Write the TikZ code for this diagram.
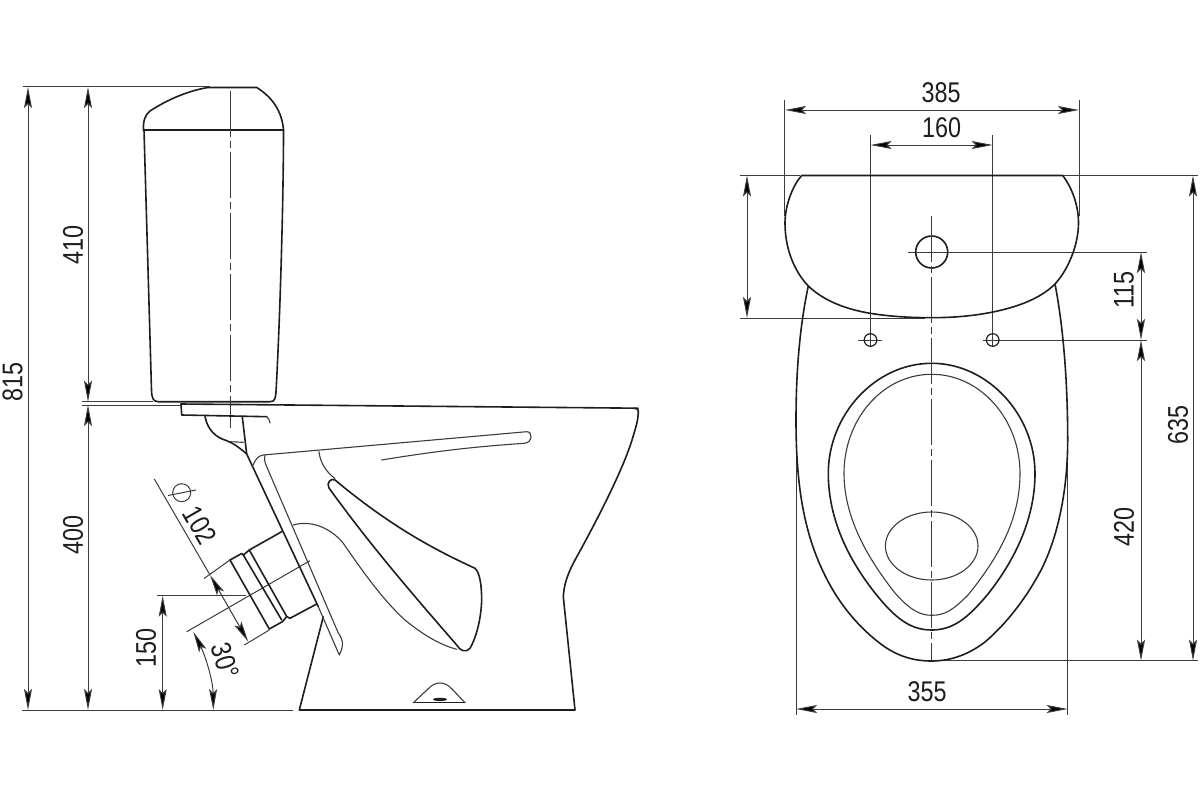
\documentclass[tikz,border=0pt]{standalone}
\usepackage{fontspec}
\setmainfont[FakeStretch=0.82]{Liberation Sans}
\usetikzlibrary{arrows.meta}
\definecolor{ink}{HTML}{1E1E1E}
\definecolor{fine}{HTML}{3C3C3C}
\tikzset{
  heavy/.style={draw=ink,line width=1.6pt,line join=round,line cap=round},
  light/.style={draw=fine,line width=1.1pt,line join=round,line cap=round},
  ext/.style={draw=fine,line width=1pt},
  dimline/.style={draw=fine,line width=1pt,{Stealth[length=21pt,width=8pt,inset=4pt,fill=black]}-{Stealth[length=21pt,width=8pt,inset=4pt,fill=black]}},
  axisline/.style={draw=fine,line width=1pt,dash pattern=on 46pt off 4pt on 7pt off 4pt},
  dimtext/.style={text=ink,font=\fontsize{28.5}{29}\selectfont,inner sep=0pt}
}
\begin{document}
\begin{tikzpicture}[x=1pt,y=-1pt]
\useasboundingbox (0,0) rectangle (1200,800);
\fill[white] (0,0) rectangle (1200,800);

% ---------- coordinates of dimension ends: side view
\coordinate (topL) at (28,87);
\coordinate (botL) at (28,710);
\coordinate (topM) at (88,87);
\coordinate (midMa) at (88,401.7);
\coordinate (midMb) at (88,405);
\coordinate (botM) at (88,710);
\coordinate (h150a) at (162.7,595.7);
\coordinate (h150b) at (162.7,710);
\coordinate (d102a) at (210,575);
\coordinate (d102b) at (248.3,641.7);
\coordinate (d102far) at (154.3,479);
\coordinate (a30a) at (193.3,631.7);
\coordinate (a30b) at (213.3,710);

% ---------- side view: extension lines
\draw[ext] (23,87) -- (210,87);
\draw[ext] (82,401.7) -- (153,401.7);
\draw[ext] (82,405) -- (181,405);
\draw[ext] (22,710) -- (293,710);
\draw[ext] (156.7,595.7) -- (246,595.7);
\draw[ext] (d102far) -- (d102a);
\draw[ext] (204,578.5) -- (230,560);
\draw[ext] (244.3,645) -- (269.3,630);
\draw[ext] (186.7,631.7) -- (310,560.7);

% ---------- side view: dimensions
\draw[dimline] (topL) -- (botL);
\draw[dimline] (topM) -- (midMa);
\draw[dimline] (midMb) -- (botM);
\draw[dimline] (h150a) -- (h150b);
\draw[dimline] (d102a) -- (d102b);
\draw[dimline] (a30a) .. controls (205,655) and (213,680) .. (a30b);

% ---------- side view: tank
\draw[heavy] (143.5,130) -- (283.5,130);
\draw[heavy] (143.5,130) .. controls (143,121) and (145,115) .. (150,111) .. controls (167,100) and (187,91) .. (208,87.5) -- (256.7,87.5)
  .. controls (272,97) and (282,111) .. (283.5,130);
\draw[heavy] (144,130) -- (151.5,390) .. controls (151.8,398) and (153,401.5) .. (158,401.7) -- (270,401.7)
  .. controls (275,401.7) and (275.5,398) .. (276,392) .. controls (280,320) and (283.5,200) .. (283.5,130);
\draw[axisline] (230,91) -- (230,428);

% ---------- side view: bowl
\draw[heavy] (181,404) -- (638,408.2);
\draw[heavy] (181,404) -- (181.7,415) -- (266.7,416.7);
\draw[light] (266.7,416.7) .. controls (268.5,418) and (269.5,420) .. (270,423);
\draw[heavy] (205,416.7) .. controls (208,430) and (215,437) .. (226.7,440.7) .. controls (233,443) and (240,448) .. (246.7,454);
\draw[light] (230,441.7) -- (243.3,442.3);
\draw[heavy] (242.3,416.7) -- (246.7,454) -- (318.3,606.7);
\draw[heavy] (323.3,616.7) -- (299.3,710) -- (575,710) -- (563.3,596.7);
\draw[heavy] (563.3,596.7) .. controls (564,585) and (567,575) .. (575,560) .. controls (600,515) and (625,465) .. (633,436.7) .. controls (636,427) and (638,420) .. (638.3,413)
  .. controls (638.6,409) and (637,408.2) .. (634,408.2);
% rim channel
\draw[light] (252.3,466.7) .. controls (255,460) and (258,455.5) .. (263.3,455) -- (526.7,431.7)
  .. controls (533,431.5) and (533,443) .. (524,443.3) .. controls (470,447) and (430,452) .. (381.7,460);
\draw[light] (265,455) .. controls (264,460) and (265,463) .. (266.7,466.7) -- (338.3,633)
  .. controls (342,638) and (345,644) .. (339.3,655) -- (318.3,606.7);
\draw[light] (319,451.7) .. controls (320,462) and (326,472) .. (335,478.5);
% water passage
\draw[heavy] (335,480) .. controls (331,477.5) and (326,483) .. (329,488) .. controls (370,545) and (415,597) .. (456.7,645)
  .. controls (460,651) and (466,653) .. (470,648.3) .. controls (476,638) and (481,620) .. (481.7,600)
  .. controls (481.5,585) and (480,573) .. (475,568.3) .. controls (440,552) and (395,530) .. (335,480) -- cycle;
\draw[light] (293.3,525) .. controls (310,520) and (330,527) .. (343.3,543.3) .. controls (365,575) and (385,602) .. (405,620) .. controls (422,634) and (440,645) .. (456.7,649.3);
% drain
\draw[heavy,line width=1.1pt] (413.3,702.7) -- (465,702.7);
\draw[light] (413.3,702.7) -- (428,689) .. controls (435,681) and (445,681) .. (452,689) -- (465,702.7);
\fill[ink] (440,699.4) ellipse[x radius=7pt,y radius=1.6pt];

% ---------- side view: outlet
\draw[heavy] (249.3,550) -- (281.7,531.7);
\draw[heavy] (290,618.3) -- (316.7,604);
\draw[heavy] (249.3,550) -- (286.7,616.5) -- (290,618.3);
\draw[heavy] (243.3,555) -- (281.7,620);
\draw[heavy] (230,560) -- (269.3,629);
\draw[heavy] (230,560) -- (241.7,553.5) -- (243.3,555) -- (249.3,550);
\draw[heavy] (269.3,629) -- (282.7,621.5) -- (286.7,616.5);

% ---------- side view: dimension texts
\node[dimtext,rotate=90] (t815) at (12.5,381.7) {815};
\node[dimtext,rotate=90] (t410) at (73,245) {410};
\node[dimtext,rotate=90] (t400) at (73,535) {400};
\node[dimtext,rotate=90] (t150) at (146,648) {150};
\node[dimtext,rotate=-60] (t102) at (200,525) {102};
\node[dimtext,rotate=-73] (t30) at (225,661) {30°};
\draw[ext] (181.7,492.7) circle[radius=9pt];
\draw[ext] (168,495.5) -- (196,490);

% ---------- plan view: coordinates
\coordinate (w385a) at (785,110);
\coordinate (w385b) at (1079,110);
\coordinate (w160a) at (870.5,145);
\coordinate (w160b) at (992.7,145);
\coordinate (vLa) at (747,175.5);
\coordinate (vLb) at (747,318);
\coordinate (v115a) at (1141,252);
\coordinate (v115b) at (1141,340);
\coordinate (v420a) at (1141,340);
\coordinate (v420b) at (1141,660.7);
\coordinate (v635a) at (1193,175.5);
\coordinate (v635b) at (1193,660.7);
\coordinate (w355a) at (796,709);
\coordinate (w355b) at (1067.7,709);

% ---------- plan view: extension lines
\draw[ext] (784.7,100) -- (784.7,216);
\draw[ext] (1079,100) -- (1079,216);
\draw[ext] (870.5,135) -- (870.5,347);
\draw[ext] (992.7,135) -- (992.7,347);
\draw[ext] (740,175.5) -- (800,175.5);
\draw[ext] (1062,175.5) -- (1198,175.5);
\draw[ext] (740,318) -- (925,318);
\draw[ext] (908,252) -- (1147,252);
\draw[ext] (858,340) -- (882,340);
\draw[ext] (983,340) -- (1147,340);
\draw[ext] (931.7,660.7) -- (1198,660.7);
\draw[ext] (796,430) -- (796,715);
\draw[ext] (1067.7,450) -- (1067.7,715);

% ---------- plan view: dimensions
\draw[dimline] (w385a) -- (w385b);
\draw[dimline] (w160a) -- (w160b);
\draw[dimline] (vLa) -- (vLb);
\draw[dimline] (v115a) -- (v115b);
\draw[dimline] (v420a) -- (v420b);
\draw[dimline] (v635a) -- (v635b);
\draw[dimline] (w355a) -- (w355b);

% ---------- plan view: tank
\draw[heavy] (801.7,175.5) .. controls (793,185) and (785,205) .. (785,223) .. controls (785,250) and (795,272) .. (808.3,286)
  .. controls (825,302) and (848,309.5) .. (870,313.3) .. controls (890,316.5) and (910,317.7) .. (931.7,317.7)
  .. controls (953,317.7) and (973,316) .. (993,312) .. controls (1017,307) and (1040,299) .. (1055,284)
  .. controls (1068,270) and (1078.5,245) .. (1078.5,223) .. controls (1078.5,205) and (1072,188) .. (1062.7,175.5) -- cycle;
\draw[heavy] (931.7,252) circle[radius=16pt];
\draw[heavy,line width=1.2pt] (870.5,340) circle[radius=6.3pt];
\draw[heavy,line width=1.2pt] (992.7,340) circle[radius=6.3pt];

% ---------- plan view: pan
\draw[heavy] (808.3,286) .. controls (800,325) and (796,370) .. (796,420) .. controls (796,490) and (805,540) .. (830,585)
  .. controls (845,612) and (865,633) .. (885,647) .. controls (900,657) and (915,661) .. (931.7,661)
  .. controls (950,661) and (968,655) .. (985,642) .. controls (1005,625) and (1025,600) .. (1040,572)
  .. controls (1058,538) and (1067.7,490) .. (1067.7,440) .. controls (1067.7,380) and (1063,325) .. (1055,284);
\draw[heavy] (931.7,363.3) .. controls (875,363.3) and (828.3,415) .. (828.3,473.3)
  .. controls (828.3,515) and (845,555) .. (875,593) .. controls (895,618) and (910,630) .. (931.7,630)
  .. controls (953,630) and (968,618) .. (988,594) .. controls (1018,556) and (1035,515) .. (1035,473.3)
  .. controls (1035,415) and (988,363.3) .. (931.7,363.3) -- cycle;
\draw[light] (931.7,374.3) .. controls (882,374.3) and (844,420) .. (844,473.3)
  .. controls (844,515) and (865,555) .. (895,593) .. controls (910,610) and (920,615.3) .. (931.7,615.3)
  .. controls (945,615.3) and (953,610) .. (968,595) .. controls (998,558) and (1020,520) .. (1020,473.3)
  .. controls (1020,420) and (981,374.3) .. (931.7,374.3) -- cycle;
\draw[light] (931.7,546) ellipse[x radius=46.3pt,y radius=34pt];
\draw[axisline] (931.7,216) -- (931.7,661);

% ---------- plan view: dimension texts
\node[dimtext] (t385) at (941,92.7) {385};
\node[dimtext] (t160) at (941.5,127.3) {160};
\node[dimtext] (t355) at (927,692) {355};
\node[dimtext,rotate=90] (t115) at (1124,290) {115};
\node[dimtext,rotate=90] (t420) at (1124,527) {420};
\node[dimtext,rotate=90] (t635) at (1178,425) {635};
\end{tikzpicture}
\end{document}
